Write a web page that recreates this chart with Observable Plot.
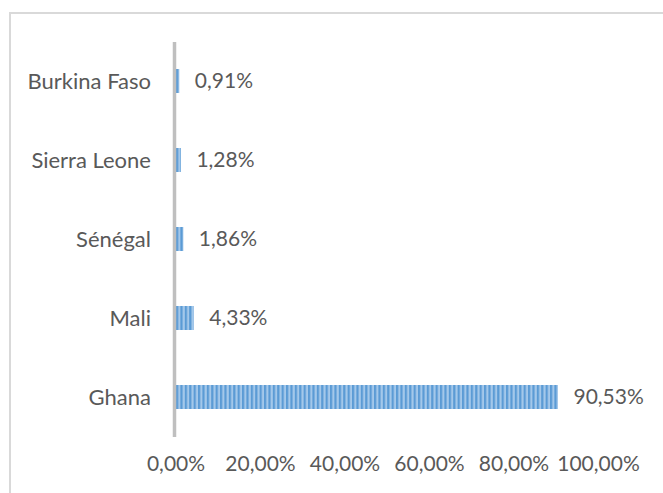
<!DOCTYPE html>
<html>
<head>
<meta charset="utf-8">
<script src="https://cdn.jsdelivr.net/npm/d3@7"></script>
<script src="https://cdn.jsdelivr.net/npm/@observablehq/plot@0.6"></script>
<style>
  html, body { margin: 0; padding: 0; background: #fff; }
  #wrap { position: relative; width: 663px; height: 493px; overflow: hidden; }
  #frame { position: absolute; left: 9px; top: 12px; width: 700px; height: 600px;
           border-top: 2px solid #d9d9d9; border-left: 2px solid #d9d9d9; box-sizing: border-box; }
  #chart { position: absolute; left: 0; top: 0; }
</style>
</head>
<body>
<div id="wrap"><div id="frame"></div><div id="chart"></div></div>
<script>
const countries = ["Burkina Faso", "Sierra Leone", "Sénégal", "Mali", "Ghana"];
const shares = [0.0091, 0.0128, 0.0186, 0.0433, 0.9053];
const tickValues = [0, 0.2, 0.4, 0.6, 0.8, 1.0];

const data = countries.map((c, i) => ({country: c, share: shares[i]}));
const fr = d3.formatLocale({decimal: ",", thousands: " ", grouping: [3], currency: ["", " €"]});
const pct = fr.format(".2%");

const FONT = "Lato";
const TXT = "#595959";

const plot = Plot.plot({
  width: 663,
  height: 493,
  marginLeft: 175.5,
  marginRight: 65,
  marginTop: 42,
  marginBottom: 56,
  style: {fontFamily: FONT, fontSize: "21px", color: TXT, background: "transparent", overflow: "visible"},
  x: {domain: [0, 1], ticks: tickValues, tickFormat: pct, tickSize: 0, tickPadding: 19, label: null},
  y: {domain: countries, paddingInner: 0.69, paddingOuter: 0.345, tickSize: 0, tickPadding: 25, label: null},
  marks: [
    Plot.barX(data, {x: "share", y: "country", fill: "url(#stripes)"}),
    Plot.ruleX([0], {stroke: "#bfbfbf", strokeWidth: 3.5, dx: -1.5}),
    Plot.axisY({tickSize: 0, tickPadding: 25, fontSize: 22}),
    Plot.text(data, {x: "share", y: "country", text: d => pct(d.share), textAnchor: "start", dx: 15, fill: TXT, fontSize: 21})
  ]
});

const svg = d3.select(plot);
const defs = svg.insert("defs", ":first-child");
const pat = defs.append("pattern")
  .attr("id", "stripes")
  .attr("patternUnits", "userSpaceOnUse")
  .attr("width", 4.4).attr("height", 10);
pat.append("rect").attr("width", 4.4).attr("height", 10).attr("fill", "#a4c8ea");
pat.append("rect").attr("width", 2.2).attr("height", 10).attr("fill", "#5b9bd5");

document.getElementById("chart").appendChild(plot);
</script>
</body>
</html>
